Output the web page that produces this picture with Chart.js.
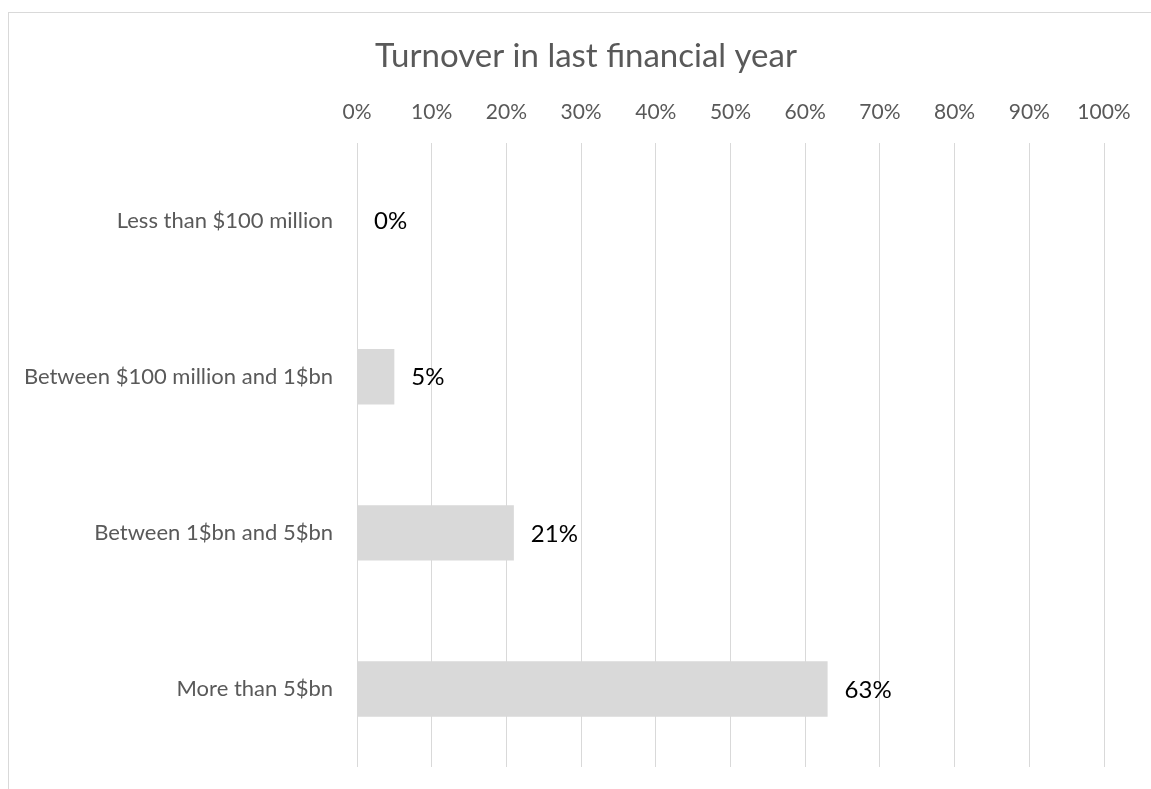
<!DOCTYPE html>
<html>
<head>
<meta charset="utf-8">
<title>Turnover in last financial year</title>
<script src="https://cdn.jsdelivr.net/npm/chart.js@4/dist/chart.umd.min.js"></script>
<style>
    html, body {
        margin: 0;
        padding: 0;
        background: #ffffff;
        overflow: hidden;
    }
    .chart-frame {
        position: absolute;
        left: 8px;
        top: 12px;
        width: 1170px;
        height: 800px;
        border: 1px solid #d9d9d9;
    }
    .chart-frame canvas {
        display: block;
    }
</style>
</head>
<body>
<div class="chart-frame">
    <canvas id="turnoverChart" width="1154" height="776"></canvas>
</div>
<script>
// ========== Data ==========

const categories = [
    'Less than $100 million',
    'Between $100 million and 1$bn',
    'Between 1$bn and 5$bn',
    'More than 5$bn'
];
const shares = [0, 5, 21, 63];
const tickValues = [0, 10, 20, 30, 40, 50, 60, 70, 80, 90, 100];

const FONT = 'Lato, "Open Sans", sans-serif';
const GREY_TEXT = '#595959';

// ========== Plugins ==========

// value labels just past the end of each bar
const barValueLabels = {
    id: 'barValueLabels',
    afterDatasetsDraw(chart) {
        const ctx = chart.ctx;
        const meta = chart.getDatasetMeta(0);
        ctx.save();
        ctx.font = '24px ' + FONT;
        ctx.fillStyle = '#000000';
        ctx.textAlign = 'left';
        ctx.textBaseline = 'middle';
        meta.data.forEach((bar, i) => {
            ctx.fillText(shares[i] + '%', bar.x + 17, bar.y + 1);
        });
        ctx.restore();
    }
};

// ========== Chart ==========

function initTurnoverChart() {
    const ctx = document.getElementById('turnoverChart').getContext('2d');

    return new Chart(ctx, {
        type: 'bar',
        data: {
            labels: categories,
            datasets: [{
                data: shares,
                backgroundColor: '#d9d9d9',
                borderWidth: 0,
                barPercentage: 0.355,
                categoryPercentage: 1
            }]
        },
        options: {
            indexAxis: 'y',
            responsive: false,
            animation: false,
            layout: {
                padding: { top: 0, right: 0, bottom: 22, left: 0 }
            },
            plugins: {
                legend: { display: false },
                tooltip: { enabled: false },
                title: {
                    display: true,
                    text: 'Turnover in last financial year',
                    color: GREY_TEXT,
                    font: { family: FONT, size: 33, weight: 'normal', lineHeight: 1.2 },
                    padding: { top: 24, bottom: 0 }
                }
            },
            scales: {
                x: {
                    position: 'top',
                    min: 0,
                    max: 100,
                    afterBuildTicks(scale) {
                        scale.ticks = tickValues.map(v => ({ value: v }));
                    },
                    afterFit(scale) {
                        scale.height = 66;
                        // keep the plot's right edge fixed, independent of label widths
                        scale.paddingRight = 59;
                    },
                    grid: {
                        color: '#d9d9d9',
                        lineWidth: 1,
                        drawTicks: false
                    },
                    border: { display: false },
                    ticks: {
                        color: GREY_TEXT,
                        font: { family: FONT, size: 21 },
                        padding: 18,
                        maxRotation: 0,
                        callback: value => value + '%'
                    }
                },
                y: {
                    afterFit(scale) {
                        scale.width = 348;
                        // labels sit well inside the plot height, no extra room needed
                        scale.paddingTop = 0;
                        scale.paddingBottom = 0;
                    },
                    grid: { display: false, drawTicks: false },
                    border: { display: false },
                    ticks: {
                        color: GREY_TEXT,
                        font: { family: FONT, size: 22 },
                        padding: 24
                    }
                }
            }
        },
        plugins: [barValueLabels]
    });
}

document.addEventListener('DOMContentLoaded', function() {
    initTurnoverChart();
});
</script>
</body>
</html>
